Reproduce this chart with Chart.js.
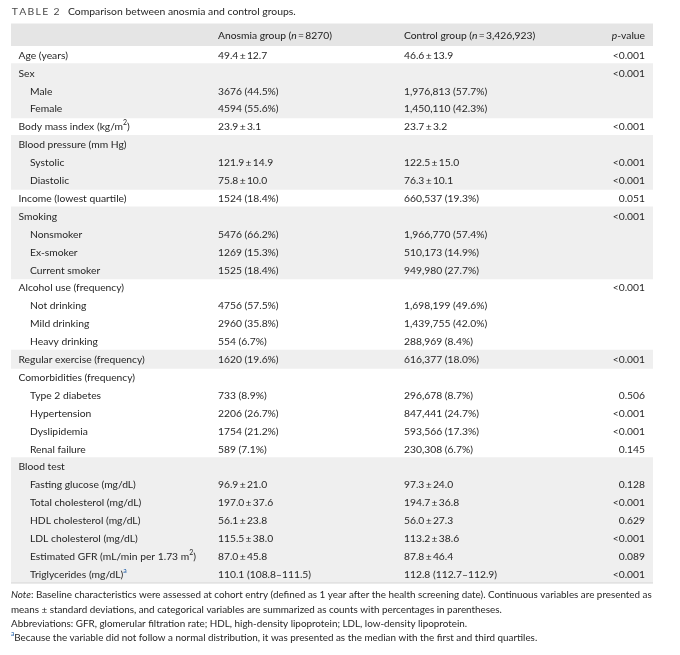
<!DOCTYPE html>
<html>
<head>
<meta charset="utf-8">
<script src="https://cdn.jsdelivr.net/npm/chart.js@4.4.0/dist/chart.umd.min.js"></script>
<style>
  html, body { margin: 0; padding: 0; background: #ffffff; }
  #wrap { width: 680px; height: 655px; position: relative; }
</style>
</head>
<body>
<div id="wrap"><canvas id="c"></canvas></div>
<script>
// ---- Data ----
const tableTitle = 'Comparison between anosmia and control groups.';
const tableNumber = 'TABLE 2';
const rowLabels = ['Age (years)','Sex','Male','Female','Body mass index (kg/m^2)','Blood pressure (mm Hg)','Systolic','Diastolic','Income (lowest quartile)','Smoking','Nonsmoker','Ex-smoker','Current smoker','Alcohol use (frequency)','Not drinking','Mild drinking','Heavy drinking','Regular exercise (frequency)','Comorbidities (frequency)','Type 2 diabetes','Hypertension','Dyslipidemia','Renal failure','Blood test','Fasting glucose (mg/dL)','Total cholesterol (mg/dL)','HDL cholesterol (mg/dL)','LDL cholesterol (mg/dL)','Estimated GFR (mL/min per 1.73 m^2)','Triglycerides (mg/dL)^a'];
const subRow = [0,0,1,1,0,0,1,1,0,0,1,1,1,0,1,1,1,0,0,1,1,1,1,0,1,1,1,1,1,1];
const anosmiaGroup = ['49.4±12.7','','3676 (44.5%)','4594 (55.6%)','23.9±3.1','','121.9±14.9','75.8±10.0','1524 (18.4%)','','5476 (66.2%)','1269 (15.3%)','1525 (18.4%)','','4756 (57.5%)','2960 (35.8%)','554 (6.7%)','1620 (19.6%)','','733 (8.9%)','2206 (26.7%)','1754 (21.2%)','589 (7.1%)','','96.9±21.0','197.0±37.6','56.1±23.8','115.5±38.0','87.0±45.8','110.1 (108.8–111.5)'];
const controlGroup = ['46.6±13.9','','1,976,813 (57.7%)','1,450,110 (42.3%)','23.7±3.2','','122.5±15.0','76.3±10.1','660,537 (19.3%)','','1,966,770 (57.4%)','510,173 (14.9%)','949,980 (27.7%)','','1,698,199 (49.6%)','1,439,755 (42.0%)','288,969 (8.4%)','616,377 (18.0%)','','296,678 (8.7%)','847,441 (24.7%)','593,566 (17.3%)','230,308 (6.7%)','','97.3±24.0','194.7±36.8','56.0±27.3','113.2±38.6','87.8±46.4','112.8 (112.7–112.9)'];
const pValues = ['<0.001','<0.001','','','<0.001','','<0.001','<0.001','0.051','<0.001','','','','<0.001','','','','<0.001','','0.506','<0.001','<0.001','0.145','','0.128','<0.001','0.629','<0.001','0.089','<0.001'];
const shadedGroup = [0,1,1,1,0,1,1,1,0,1,1,1,1,0,0,0,0,1,0,0,0,0,0,1,1,1,1,1,1,1];
const headerAnosmia = 'Anosmia group (_n_ = 8270)';
const headerControl = 'Control group (_n_ = 3,426,923)';
const headerP = '_p_-value';
const noteLines = [
  '_Note_: Baseline characteristics were assessed at cohort entry (defined as 1 year after the health screening date). Continuous variables are presented as',
  'means ± standard deviations, and categorical variables are summarized as counts with percentages in parentheses.',
  'Abbreviations: GFR, glomerular filtration rate; HDL, high-density lipoprotein; LDL, low-density lipoprotein.',
  '^a^Because the variable did not follow a normal distribution, it was presented as the median with the first and third quartiles.'
];

// ---- Helpers ----
const FONT = 'Lato, "Noto Sans", sans-serif';
const TXT = '#262626';
const BLUE = '#1f5ea8';
const BODY = 10.3;

function pm(s) { return s.replace(/±/g, '\u2009±\u2009'); }

function parse(str) {
  const segs = [];
  let i = 0, buf = '', italic = false;
  while (i < str.length) {
    const ch = str[i];
    if (ch === '_') { if (buf) segs.push({t: buf, italic}); buf=''; italic = !italic; i++; continue; }
    if (ch === '^') {
      if (buf) segs.push({t: buf, italic}); buf='';
      let sup;
      if (str[i+1] === 'a' && str[i+2] === '^') { sup = 'a'; i = i+3; }
      else { sup = str[i+1]; i = i+2; }
      segs.push({t: sup, italic:false, sup:true, color: sup === 'a' ? BLUE : null});
      continue;
    }
    buf += ch; i++;
  }
  if (buf) segs.push({t: buf, italic});
  return segs;
}

function drawRich(ctx, str, x, y, size, align, color) {
  const segs = parse(str);
  const fontOf = s => (s.italic ? 'italic ' : '') + (s.sup ? (size*0.68).toFixed(1) : size) + 'px ' + FONT;
  let total = 0;
  segs.forEach(s => { ctx.font = fontOf(s); s.w = ctx.measureText(s.t).width; total += s.w; });
  let cx = align === 'right' ? x - total : x;
  ctx.textBaseline = 'middle';
  ctx.textAlign = 'left';
  segs.forEach(s => {
    ctx.font = fontOf(s);
    ctx.fillStyle = s.color || color || TXT;
    ctx.fillText(s.t, cx, s.sup ? y - size*0.38 : y);
    cx += s.w;
  });
}

const tablePlugin = {
  id: 'tableText',
  beforeDatasetsDraw(chart) {
    const ctx = chart.ctx, area = chart.chartArea;
    ctx.save();
    ctx.fillStyle = '#e5e5e5';
    ctx.fillRect(area.left, 23.5, area.right - area.left, area.top - 23.5);
    ctx.restore();
  },
  afterDatasetsDraw(chart) {
    const ctx = chart.ctx, area = chart.chartArea;
    const yScale = chart.scales.y;
    const colLabel = 18.5, colSub = 30, colA = 218, colC = 404, colP = 645;
    ctx.save();
    // title: spaced caps fitted between table edge and caption start
    ctx.font = '10.4px ' + FONT;
    ctx.fillStyle = '#4a4a4a';
    ctx.textBaseline = 'middle';
    ctx.textAlign = 'left';
    const chars = Array.from(tableNumber);
    const sumW = chars.reduce((a, ch) => a + ctx.measureText(ch).width, 0);
    const startX = area.left + 0.7, endX = 59.5;
    const gap = (endX - startX - sumW) / (chars.length - 1);
    let tx = startX;
    chars.forEach(ch => { ctx.fillText(ch, tx, 11.5); tx += ctx.measureText(ch).width + gap; });
    ctx.fillStyle = '#262626';
    ctx.fillText(tableTitle, 68, 11.5);
    // header
    const hy = (23.5 + area.top) / 2 + 0.5;
    drawRich(ctx, headerAnosmia.replace(' = ', '\u2009=\u2009'), colA, hy, BODY, 'left', '#1a1a1a');
    drawRich(ctx, headerControl.replace(' = ', '\u2009=\u2009'), colC, hy, BODY, 'left', '#1a1a1a');
    drawRich(ctx, headerP, colP, hy, BODY, 'right', '#1a1a1a');
    // rows
    rowLabels.forEach((lab, i) => {
      const y = yScale.getPixelForValue(i) + 0.5;
      drawRich(ctx, lab, subRow[i] ? colSub : colLabel, y, BODY, 'left');
      if (anosmiaGroup[i]) drawRich(ctx, pm(anosmiaGroup[i]), colA, y, BODY, 'left');
      if (controlGroup[i]) drawRich(ctx, pm(controlGroup[i]), colC, y, BODY, 'left');
      if (pValues[i]) drawRich(ctx, pValues[i], colP, y, BODY, 'right');
    });
    // bottom rule
    ctx.fillStyle = '#d6d6d6';
    ctx.fillRect(area.left, area.bottom - 0.5, area.right - area.left, 1);
    // notes
    const noteY = [595, 609.5, 623.5, 638];
    noteLines.forEach((ln, i) => drawRich(ctx, ln, area.left, noteY[i], 9.85, 'left', '#262626'));
    ctx.restore();
  }
};

new Chart(document.getElementById('c'), {
  type: 'bar',
  data: {
    labels: rowLabels,
    datasets: [{
      data: shadedGroup.map(s => s ? [0, 1] : null),
      backgroundColor: '#efefef',
      borderWidth: 0,
      borderSkipped: false,
      barPercentage: 1.06,
      categoryPercentage: 1
    }]
  },
  options: {
    indexAxis: 'y',
    responsive: true,
    maintainAspectRatio: false,
    animation: false,
    events: [],
    layout: { padding: { top: 46, left: 11, right: 27, bottom: 72 } },
    scales: {
      x: { type: 'linear', min: 0, max: 1, display: false },
      y: { type: 'category', display: false, offset: true, grid: { display: false } }
    },
    plugins: { legend: { display: false }, tooltip: { enabled: false }, title: { display: false } }
  },
  plugins: [tablePlugin]
});
</script>
</body>
</html>
